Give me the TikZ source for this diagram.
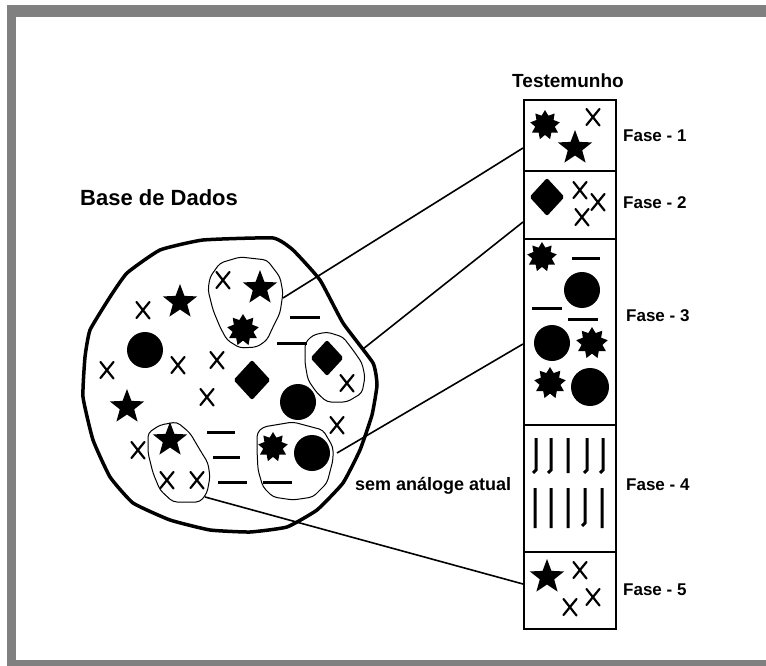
\documentclass[tikz,border=0pt]{standalone}
\usepackage{fontspec}
\setmainfont{Liberation Sans}
\begin{document}
\begin{tikzpicture}[x=1pt,y=-1pt,
  frame/.style={fill={rgb,255:red,128;green,128;blue,128}},
  bigblob/.style={draw,line width=3.5pt,line join=round},
  subblob/.style={draw,line width=1pt,rounded corners=4pt},
  conn/.style={draw,line width=1.6pt},
  dsh/.style={line width=3pt},
  vstroke/.style={line width=3pt},
  boxc/.style={draw,line width=2pt,minimum width=92pt,inner sep=0pt,anchor=north west},
  lbl/.style={font=\bfseries\fontsize{17}{17}\selectfont,anchor=base west,inner sep=0pt},
  pics/xm/.style={code={\draw[line width=2.2pt,line cap=round]
      (-6.5pt,8pt) .. controls (-1pt,1pt) .. (6.5pt,-8.5pt)
      (-6.5pt,-8pt) -- (6.5pt,8pt);}},
  pics/st/.style={code={\fill (90:#1) \foreach \i in {0,...,4} {-- (126+72*\i:0.42*#1) -- (162+72*\i:#1)} -- cycle;}},
  pics/bu/.style={code={\fill (90:#1) \foreach \i in {0,...,8} {-- (110+40*\i:0.66*#1) -- (130+40*\i:#1)} -- cycle;}},
  pics/ci/.style={code={\fill (0,0) circle[radius=#1];}},
  pics/di/.style={code={\fill[rounded corners=2pt] (0,#1) -- (0.92*#1,0) -- (0,-#1) -- (-0.92*#1,0) -- cycle;}},
]
\useasboundingbox (0,0) rectangle (766,666);
% frame
\fill[frame] (7,5) rectangle (766,666);
\fill[white] (16,17) rectangle (766,660);

% big database blob
\draw[bigblob] plot[smooth cycle,tension=0.25] coordinates {
 (160,250) (203,240) (273,238) (293,250) (320,280) (343,323) (373,363) (377,385)
 (372,415) (360,450) (343,483) (317,510) (287,527) (250,532) (210,530) (170,520)
 (133,503) (110,477) (93,440) (83,397) (85,357) (90,330) (110,297) (127,273)};

% sub blobs
\draw[subblob] (210,277) -- (220,263) -- (240,257) -- (267,260) -- (280,277) -- (283,293) -- (280,313) -- (273,327) -- (267,340) -- (257,347) -- (240,348) -- (227,340) -- (220,327) -- (213,310) -- (208,290) -- cycle;
\draw[subblob] (305,343) -- (313,335) -- (327,332) -- (343,337) -- (353,350) -- (362,363) -- (365,377) -- (362,393) -- (347,402) -- (327,402) -- (317,393) -- (308,380) -- (305,363) -- cycle;
\draw[subblob] (257,433) -- (263,427) -- (293,422) -- (323,430) -- (333,447) -- (333,460) -- (327,483) -- (313,497) -- (293,500) -- (273,497) -- (263,487) -- (258,470) -- (257,450) -- cycle;
\draw[subblob] (148,433) -- (160,425) -- (177,422) -- (190,433) -- (200,450) -- (208,463) -- (210,477) -- (207,493) -- (200,502) -- (173,502) -- (160,490) -- (153,473) -- (148,453) -- cycle;

% symbols in the database
\foreach \p in {(223,280),(143,310),(178,365),(107,370),(217,360),(207,397),(347,383),(337,425),(138,450),(167,480),(197,480)}
  \pic at \p {xm};
\foreach \p in {(180,302),(260,288),(127,407),(170,440)}
  \pic at \p {st=18pt};
\pic at (243,330) {bu=16pt};
\pic at (273,447) {bu=15pt};
\pic at (145,350) {ci=18pt};
\pic at (298,402) {ci=18pt};
\pic at (312,453) {ci=18pt};
\pic at (252,380) {di=20pt};
\pic at (327,358) {di=18pt};
\draw[dsh] (290,317) -- (320,317) (277,343) -- (307,343)
  (207,432) -- (235,432) (213,457) -- (240,457) (218,482) -- (247,482) (263,482) -- (292,482);

% testemunho column
\node[boxc,minimum height=71pt] (f1) at (523,99) {};
\node[boxc,minimum height=68pt] (f2) at (523,170) {};
\node[boxc,minimum height=186pt] (f3) at (523,238) {};
\node[boxc,minimum height=127pt] (f4) at (523,424) {};
\node[boxc,minimum height=77pt] (f5) at (523,551) {};

% box contents
\pic at (545,125) {bu=15pt};
\pic at (575,148) {st=18pt};
\pic at (593,117) {xm};
\pic at (547,197) {di=19pt};
\pic at (580,190) {xm};
\pic at (598,202) {xm};
\pic at (582,217) {xm};
\pic at (542,257) {bu=15pt};
\draw[dsh] (572,258) -- (600,258) (532,308) -- (562,308) (568,319) -- (598,319);
\pic at (582,290) {ci=18pt};
\pic at (552,343) {ci=18pt};
\pic at (592,343) {bu=16pt};
\pic at (550,383) {bu=16pt};
\pic at (590,387) {ci=19pt};
% fase 4 strokes
\draw[vstroke] (536,438) -- (536,470) -- (533,473)
  (551,438) -- (551,470) -- (548,473)
  (568,438) -- (568,473)
  (587,438) -- (587,470) -- (584,473)
  (603,438) -- (603,470) -- (600,473);
\draw[vstroke] (535,488) -- (535,528) (551,488) -- (551,528) (568,488) -- (568,528)
  (585,488) -- (585,523) -- (582,526) (602,488) -- (602,528);
\pic at (547,577) {st=18pt};
\pic at (580,570) {xm};
\pic at (593,597) {xm};
\pic at (570,607) {xm};

% connectors
\coordinate (c1) at (283,298);
\coordinate (c2) at (363,349);
\coordinate (c3) at (337,453);
\coordinate (c4) at (205,497);
\coordinate (e1) at (523,148);
\coordinate (e2) at (523,222);
\coordinate (e3) at (523,344);
\coordinate (e4) at (523,584);
\draw[conn] (c1) -- (e1);
\draw[conn] (c2) -- (e2);
\draw[conn] (c3) -- (e3);
\draw[conn] (c4) -- (e4);

% labels
\node[lbl,font=\bfseries\fontsize{19}{19}\selectfont,anchor=base] (tt) at (568,88) {Testemunho};
\node[lbl,font=\bfseries\fontsize{22}{22}\selectfont] (bd) at (80,205) {Base de Dados};
\node[lbl,font=\bfseries\fontsize{18}{18}\selectfont] (sa) at (355,490) {sem análoge atual};
\node[lbl] (l1) at (623,142) {Fase - 1};
\node[lbl] (l2) at (623,208) {Fase - 2};
\node[lbl] (l3) at (626,321) {Fase - 3};
\node[lbl] (l4) at (626,490) {Fase - 4};
\node[lbl] (l5) at (623,595) {Fase - 5};
\end{tikzpicture}
\end{document}
